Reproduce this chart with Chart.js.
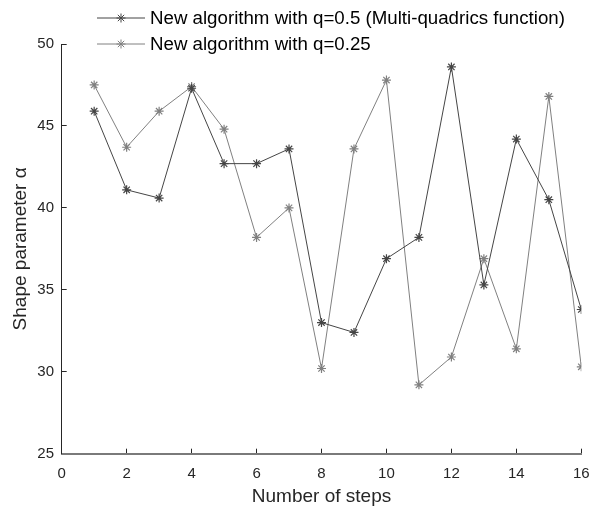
<!DOCTYPE html>
<html>
<head>
<meta charset="utf-8">
<script src="https://cdn.jsdelivr.net/npm/chart.js@4.4.1/dist/chart.umd.min.js"></script>
<style>
  body { margin: 0; background: #fff; }
  #wrap { width: 600px; height: 506px; }
</style>
</head>
<body>
<div id="wrap"><canvas id="myChart" width="600" height="506"></canvas></div>
<script>
// values
const steps = [1, 2, 3, 4, 5, 6, 7, 8, 9, 10, 11, 12, 13, 14, 15, 16]
const alphaHalf = [45.9, 41.1, 40.6, 47.3, 42.7, 42.7, 43.6, 33.0, 32.4, 36.9, 38.2, 48.6, 35.3, 44.2, 40.5, 33.8]
const alphaQuarter = [47.5, 43.7, 45.9, 47.4, 44.8, 38.2, 40.0, 30.2, 43.6, 47.8, 29.2, 30.9, 36.9, 31.4, 46.8, 30.3]
const seriesNames = ["New algorithm with q=0.5 (Multi-quadrics function)", "New algorithm with q=0.25"]

const toPoints = (ys) => ys.map((y, i) => ({ x: steps[i], y: y }))
const fontFamily = "'Liberation Sans', Arial, sans-serif"

// legend drawn as line + star + label, stacked at top left
const lineLegend = {
  id: 'lineLegend',
  afterDraw: (chart) => {
    const ctx = chart.ctx
    chart.data.datasets.forEach((ds, i) => {
      const y = 18 + i * 26
      ctx.save()
      ctx.strokeStyle = ds.borderColor
      ctx.lineWidth = 1
      ctx.beginPath()
      ctx.moveTo(97, y)
      ctx.lineTo(145, y)
      ctx.stroke()
      Chart.helpers.drawPoint(ctx, { pointStyle: 'star', radius: 4.5, borderWidth: 1 }, 121, y)
      ctx.fillStyle = '#000'
      ctx.font = "18.7px " + fontFamily
      ctx.textBaseline = 'middle'
      ctx.textAlign = 'left'
      ctx.fillText(ds.label, 150, y + 1)
      ctx.restore()
    })
  }
}

new Chart("myChart", {
  type: "line",
  data: {
    datasets: [{
      label: seriesNames[0],
      data: toPoints(alphaHalf),
      borderColor: "#454545",
      backgroundColor: "#454545",
      pointBorderColor: "#454545",
      borderWidth: 1,
      pointStyle: 'star',
      pointRadius: 4.5,
      pointBorderWidth: 1.2,
      tension: 0
    }, {
      label: seriesNames[1],
      data: toPoints(alphaQuarter),
      borderColor: "#808080",
      backgroundColor: "#808080",
      pointBorderColor: "#808080",
      borderWidth: 1,
      pointStyle: 'star',
      pointRadius: 4.5,
      pointBorderWidth: 1.2,
      tension: 0
    }]
  },
  options: {
    responsive: false,
    animation: false,
    layout: { padding: { top: 44, right: 18.7, left: 0, bottom: 0 } },
    plugins: {
      legend: { display: false },
      tooltip: { enabled: false }
    },
    scales: {
      x: {
        type: 'linear',
        min: 0,
        max: 16,
        afterFit: (scale) => {
          scale.height = 52.3
          scale.paddingLeft = 0
          scale.paddingRight = 0
        },
        ticks: { stepSize: 2, padding: 16, color: '#262626', font: { size: 15, family: fontFamily } },
        grid: { drawOnChartArea: false, drawTicks: true, tickLength: -5, color: '#262626' },
        border: { color: '#7a7a7a', width: 2 },
        title: { display: true, text: 'Number of steps', color: '#262626', font: { size: 19, family: fontFamily }, padding: { top: 0, bottom: -2 } }
      },
      y: {
        min: 25,
        max: 50,
        afterFit: (scale) => { scale.width = 61.7 },
        ticks: { stepSize: 5, padding: 12.7, color: '#262626', font: { size: 15, family: fontFamily } },
        grid: { drawOnChartArea: false, drawTicks: true, tickLength: -5, color: '#262626' },
        border: { color: '#262626', width: 1 },
        title: { display: true, text: 'Shape parameter α', color: '#262626', font: { size: 19, family: fontFamily }, padding: { top: 9.3, bottom: 0 } }
      }
    }
  },
  plugins: [lineLegend]
})
</script>
</body>
</html>
